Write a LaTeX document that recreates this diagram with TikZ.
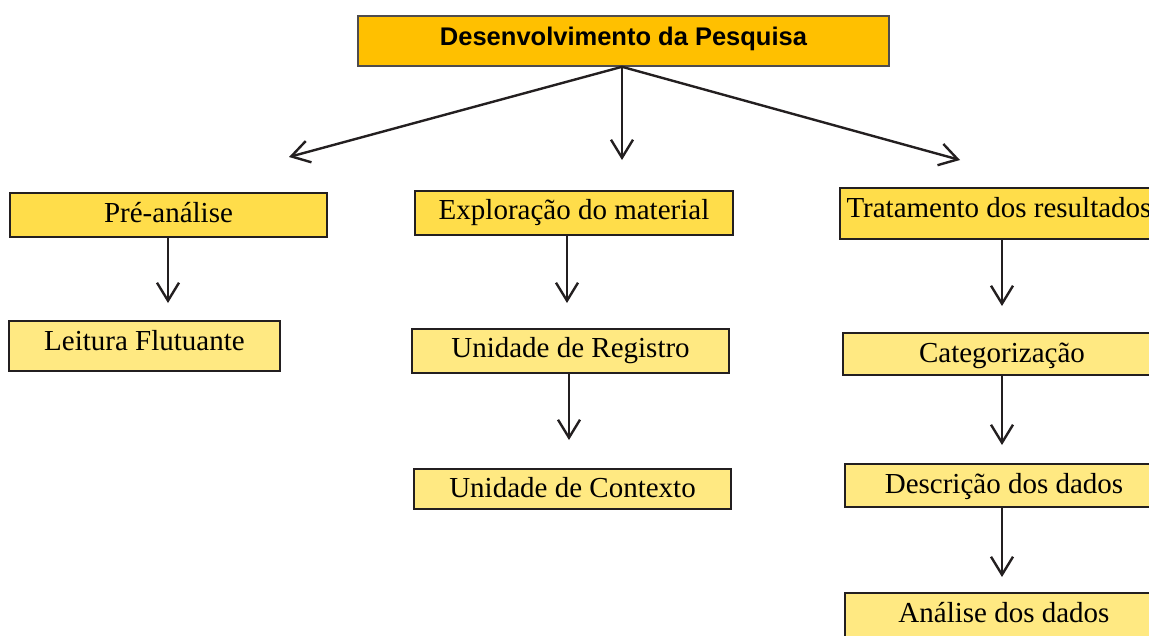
\documentclass[tikz,border=0pt]{standalone}
\usepackage{fontspec}
\setmainfont{Liberation Serif}
\newfontfamily\headfont{Liberation Sans}
\usetikzlibrary{arrows.meta}
\definecolor{topfill}{RGB}{255,192,0}
\definecolor{lvlone}{RGB}{255,221,74}
\definecolor{lvltwo}{RGB}{255,233,130}
\definecolor{inkc}{RGB}{35,31,32}
\tikzset{
  box/.style={draw=inkc, line width=2pt, inner sep=0pt, anchor=center,
    font=\fontsize{29}{34}\selectfont},
  sz/.style 2 args={minimum width=#1pt, minimum height=#2pt},
  off/.style={text height={13pt+#1pt}, text depth={13pt-#1pt}},
  one/.style={box, fill=lvlone},
  two/.style={box, fill=lvltwo},
  headbox/.style={draw=inkc!80, line width=1.6pt, fill=topfill, inner sep=0pt,
    font=\headfont\bfseries\fontsize{25.5}{30}\selectfont},
  arr/.style={draw=inkc, line width=2.4pt,
    -{Straight Barb[length=18pt, width=22pt, line width=2.4pt]}}
}
\begin{document}
\begin{tikzpicture}[x=1pt, y=-1pt]
\useasboundingbox (0,0) rectangle (1149,635);
\clip (0,0) rectangle (1149,635);
% top
\node[headbox, sz={531}{50}, off=4.6] (top) at (623.5,41) {Desenvolvimento da Pesquisa};
% level one
\node[one, sz={317}{44}, off=7.5] (pre) at (168.5,215) {Pré-análise};
\node[one, sz={318}{44}, off=6.5] (expl) at (574,213) {Exploração do material};
\node[one, sz={318}{51}, off=4] (trat) at (999,213.5) {Tratamento dos resultados};
% level two
\node[two, sz={271}{50}, off=4.5] (leit) at (144.5,346) {Leitura Flutuante};
\node[two, sz={317}{44}, off=6.5] (reg) at (570.5,351) {Unidade de Registro};
\node[two, sz={317}{40}, off=8.5] (cont) at (572.5,489) {Unidade de Contexto};
\node[two, sz={318}{42}, off=8.5] (cat) at (1002,354) {Categorização};
\node[two, sz={318}{43}, off=8] (desc) at (1004,485.5) {Descrição dos dados};
\node[two, sz={318}{44}, off=7.5] (anal) at (1004,615) {Análise dos dados};
% arrow ends
\coordinate (tL) at (289,157);
\coordinate (tM) at (622,160);
\coordinate (tR) at (960,160);
\coordinate (aPre) at (168,303);
\coordinate (aExpl) at (567,303);
\coordinate (aReg) at (569,440);
\coordinate (aTrat) at (1002,306);
\coordinate (aCat) at (1002,445);
\coordinate (aDesc) at (1002,577);
\coordinate (src) at (622,66);
% arrows
\draw[arr] (top.south -| src) -- (tL);
\draw[arr] (top.south -| src) -- (tM);
\draw[arr] (top.south -| src) -- (tR);
\draw[arr] (pre.south -| aPre) -- (aPre);
\draw[arr] (expl.south -| aExpl) -- (aExpl);
\draw[arr] (reg.south -| aReg) -- (aReg);
\draw[arr] (trat.south -| aTrat) -- (aTrat);
\draw[arr] (cat.south -| aCat) -- (aCat);
\draw[arr] (desc.south -| aDesc) -- (aDesc);
\end{tikzpicture}
\end{document}
